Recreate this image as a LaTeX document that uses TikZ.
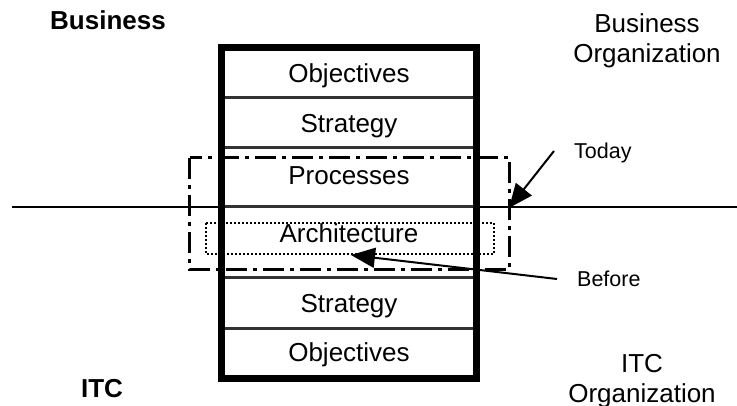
\documentclass[tikz,border=0pt]{standalone}
\usepackage{fontspec}
\setmainfont{Liberation Sans}
\usetikzlibrary{arrows.meta}
\begin{document}
\begin{tikzpicture}[x=1pt,y=-1pt,
  lbl/.style={font=\fontsize{26}{30}\selectfont, anchor=base, inner sep=0pt},
  heading/.style={font=\fontsize{26}{30}\selectfont\bfseries, anchor=base, inner sep=0pt},
  orglbl/.style={font=\fontsize{26}{30}\selectfont, align=center, anchor=base, inner sep=0pt},
  small/.style={font=\fontsize{21.5}{25}\selectfont, anchor=base west, inner sep=0pt},
  divider/.style={line width=3pt, black!80},
  frame/.style={line width=7pt},
  dashdotbox/.style={line width=3pt, dash pattern=on 21pt off 6pt on 4pt off 6pt},
  dotbox/.style={line width=1.5pt, dash pattern=on 2pt off 2pt},
  pointer/.style={line width=2pt, -{Triangle[length=24pt,width=20pt]}}]
\useasboundingbox (0,0) rectangle (737,406);

% dividing line between business and ITC
\coordinate (axisL) at (12,207);
\coordinate (axisR) at (737,207);
\draw[line width=2pt] (axisL) -- (axisR);

% layer dividers inside the stack
\foreach \yy in {98,148,207,278,329}
  \draw[divider] (221.5,\yy) -- (476.5,\yy);

% outer frame of the stack
\draw[frame] (221.5,47.5) rectangle (476.5,378.5);

% layer labels
\node[lbl] (obj1)  at (349,83)  {Objectives};
\node[lbl] (str1)  at (349,133) {Strategy};
\node[lbl] (proc)  at (349,185) {Processes};
\node[lbl] (arch)  at (349,243) {Architecture};
\node[lbl] (str2)  at (349,313) {Strategy};
\node[lbl] (obj2)  at (349,362) {Objectives};

% scope of today and before
\draw[dashdotbox] (189.5,158) rectangle (509,270);
\draw[dotbox] (206,223) rectangle (494,254);
\coordinate (todayTip) at (509,208);
\coordinate (beforeTip) at (351,255);

% side labels (the base anchor of a two-line node sits on its last line)
\node[heading] (bus) at (108,30) {Business};
\node[heading] (itc) at (102,397) {ITC};
\node[orglbl] (busorg) at (647,63) {Business\\Organization};
\node[orglbl] (itcorg) at (642,402) {ITC\\Organization};

\node[small] (today)  at (574,159) {Today};
\node[small] (before) at (577,287) {Before};

\coordinate (todayStart) at (554,151);
\coordinate (beforeStart) at (557,279);
\draw[pointer] (todayStart) -- (todayTip);
\draw[pointer] (beforeStart) -- (beforeTip);
\end{tikzpicture}
\end{document}
